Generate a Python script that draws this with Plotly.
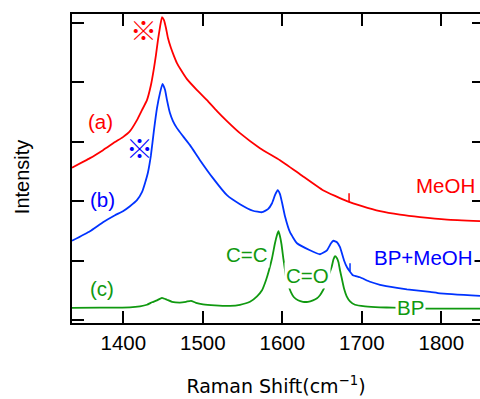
import plotly.graph_objects as go

# ---- data (Raman shift cm^-1, intensity a.u.) ----
meoh_x = [1335.5, 1358.1, 1374.5, 1389.6, 1399.6, 1408.4, 1417.2, 1423.5, 1429.8, 1434.8,
          1438.6, 1441.1, 1443.6, 1446.2, 1448.7, 1451.2, 1453.7, 1456.2, 1460.0, 1463.8,
          1467.5, 1472.6, 1480.1, 1492.7, 1505.3, 1517.9, 1530.4, 1546.8, 1571.9, 1597.1,
          1622.3, 1651.2, 1681.4, 1700.3, 1722.9, 1748.0, 1773.2, 1807.2, 1848.7]
meoh_y = [2.563, 2.723, 2.857, 2.992, 3.076, 3.176, 3.361, 3.529, 3.697, 3.950,
          4.235, 4.454, 4.706, 4.924, 5.092, 5.042, 4.908, 4.739, 4.571, 4.437,
          4.319, 4.202, 4.050, 3.866, 3.697, 3.513, 3.345, 3.143, 2.891, 2.689,
          2.454, 2.185, 2.000, 1.916, 1.832, 1.773, 1.731, 1.689, 1.664]

bpmeoh_x = [1335.5, 1358.1, 1374.5, 1389.6, 1399.6, 1408.4, 1417.2, 1423.5, 1427.3, 1431.1,
            1434.8, 1438.6, 1442.4, 1446.2, 1449.3, 1452.5, 1455.0, 1458.7, 1462.5, 1467.5,
            1475.1, 1483.9, 1496.5, 1512.8, 1530.4, 1546.8, 1563.1, 1574.5, 1582.0, 1587.1,
            1590.8, 1594.2, 1597.1, 1599.6, 1603.4, 1609.7, 1618.5, 1634.8, 1647.4, 1656.2,
            1661.3, 1664.4, 1668.8, 1672.6, 1677.6, 1681.4, 1688.9, 1697.7, 1710.3, 1722.9,
            1744.3, 1756.8, 1785.8, 1798.4, 1848.7]
bpmeoh_y = [1.336, 1.496, 1.647, 1.765, 1.832, 1.916, 2.017, 2.151, 2.303, 2.487,
            2.773, 3.193, 3.563, 3.819, 3.971, 3.870, 3.697, 3.479, 3.345, 3.227,
            3.092, 2.941, 2.689, 2.387, 2.101, 1.950, 1.840, 1.815, 1.866, 1.966,
            2.101, 2.185, 2.118, 1.983, 1.748, 1.479, 1.294, 1.176, 1.109, 1.176,
            1.294, 1.336, 1.311, 1.227, 1.009, 0.891, 0.756, 0.723, 0.647, 0.597,
            0.546, 0.521, 0.479, 0.454, 0.412]

bp_x = [1335.5, 1370.7, 1408.4, 1421.0, 1429.8, 1436.1, 1442.4, 1448.7, 1455.0, 1461.3,
        1471.3, 1478.9, 1485.2, 1491.4, 1500.3, 1515.3, 1534.2, 1546.8, 1559.4, 1568.2,
        1574.5, 1579.5, 1583.3, 1587.1, 1590.8, 1593.3, 1595.2, 1597.1, 1599.0, 1601.3,
        1604.7, 1607.6, 1611.0, 1614.7, 1619.8, 1626.0, 1632.3, 1638.6, 1643.7, 1647.4,
        1651.2, 1653.7, 1657.5, 1662.1, 1664.4, 1666.3, 1668.8, 1670.7, 1672.6, 1675.1,
        1677.6, 1681.0, 1685.2, 1691.5, 1704.1, 1722.9, 1739.2, 1760.6, 1779.5, 1811.0,
        1848.7]
bp_y = [0.210, 0.213, 0.218, 0.235, 0.261, 0.303, 0.336, 0.378, 0.345, 0.311,
        0.298, 0.311, 0.328, 0.294, 0.269, 0.252, 0.244, 0.261, 0.311, 0.403,
        0.504, 0.672, 0.840, 1.042, 1.294, 1.429, 1.496, 1.412, 1.277, 1.042,
        0.728, 0.588, 0.471, 0.387, 0.336, 0.311, 0.311, 0.336, 0.370, 0.420,
        0.504, 0.571, 0.723, 0.896, 1.025, 1.076, 1.042, 0.976, 0.840, 0.689,
        0.538, 0.403, 0.319, 0.261, 0.235, 0.218, 0.213, 0.205, 0.198, 0.197,
        0.197]

x_ticks = [1400, 1500, 1600, 1700, 1800]
y_ticks = [0, 1, 2, 3, 4, 5]

# labels: text, x, y, colour
label_text = ["※", "※", "(a)", "(b)", "(c)", "MeOH", "BP+MeOH", "C=C", "C=O", "BP"]
label_x = [1425.2, 1420.0, 1371.1, 1373.8, 1372.8, 1804.7, 1778.2, 1555.2, 1632.1, 1760.8]
label_y = [4.886, 2.899, 3.336, 2.034, 0.533, 2.269, 1.050, 1.097, 0.745, 0.210]
label_color = ["#ff0000", "#0000ff", "#ff0000", "#0000ff", "#109910",
               "#ff0000", "#0000ff", "#109910", "#109910", "#109910"]

# tag marks (x, y0, y1, colour)
tag_x = [1684.0, 1685.2]
tag_y0 = [1.983, 0.824]
tag_y1 = [2.134, 0.958]
tag_color = ["#ff0000", "#0033ff"]

RED, BLUE, GREEN = "#ff0000", "#0033ff", "#109910"
LAT = "Liberation Sans"

fig = go.Figure()
for xs, ys, col in [(meoh_x, meoh_y, RED), (bpmeoh_x, bpmeoh_y, BLUE), (bp_x, bp_y, GREEN)]:
    fig.add_trace(go.Scatter(x=xs, y=ys, mode="lines",
                             line=dict(color=col, width=1.8, shape="spline", smoothing=0.4),
                             showlegend=False, hoverinfo="skip"))
# empty trace carrying the right-hand tick axis
fig.add_trace(go.Scatter(x=[None], y=[None], yaxis="y2", showlegend=False, hoverinfo="skip"))

annotations = []
for t, x, y, c in zip(label_text, label_x, label_y, label_color):
    is_mark = t == "※"
    annotations.append(dict(
        text=t, x=x, y=y, xref="x", yref="y", showarrow=False,
        xanchor="center", yanchor="middle",
        font=dict(family="Noto Sans CJK JP" if is_mark else LAT,
                  size=27 if is_mark else 20.5, color=c),
        bgcolor="rgba(0,0,0,0)" if is_mark else "white", borderpad=1))
annotations.append(dict(
    text="Intensity", textangle=-90, xref="paper", yref="paper",
    x=-0.1225, y=0.472, xanchor="center", yanchor="middle", showarrow=False,
    font=dict(family=LAT, size=20, color="black")))

shapes = [dict(type="line", xref="x", yref="y", x0=x, x1=x, y0=a, y1=b,
               line=dict(color=c, width=1.5))
          for x, a, b, c in zip(tag_x, tag_y0, tag_y1, tag_color)]

yr = [-0.045, 5.143]
fig.update_layout(
    width=480, height=399,
    margin=dict(l=72, r=0, t=14, b=76),
    paper_bgcolor="white", plot_bgcolor="white",
    xaxis=dict(range=[1335.5, 1848.7], tickvals=x_ticks, ticks="inside", ticklen=12,
               tickwidth=2, tickcolor="black", showline=True, linewidth=2, linecolor="black",
               mirror="ticks", showgrid=False, zeroline=False,
               tickfont=dict(family=LAT, size=20.5, color="black"),
               title=dict(text="Raman Shift(cm<sup>−1</sup>)",
                          font=dict(family="DejaVu Sans", size=19, color="black"),
                          standoff=27)),
    yaxis=dict(range=yr, tickvals=y_ticks, ticks="inside", ticklen=12, tickwidth=2,
               tickcolor="black", showline=True, linewidth=2, linecolor="black",
               showticklabels=False, showgrid=False, zeroline=False),
    yaxis2=dict(range=yr, tickvals=y_ticks, overlaying="y", side="right", anchor="x",
                ticks="inside", ticklen=8, tickwidth=2, tickcolor="black",
                showline=False, showticklabels=False, showgrid=False, zeroline=False),
    annotations=annotations,
    shapes=shapes,
)

fig.write_html("out.html")
